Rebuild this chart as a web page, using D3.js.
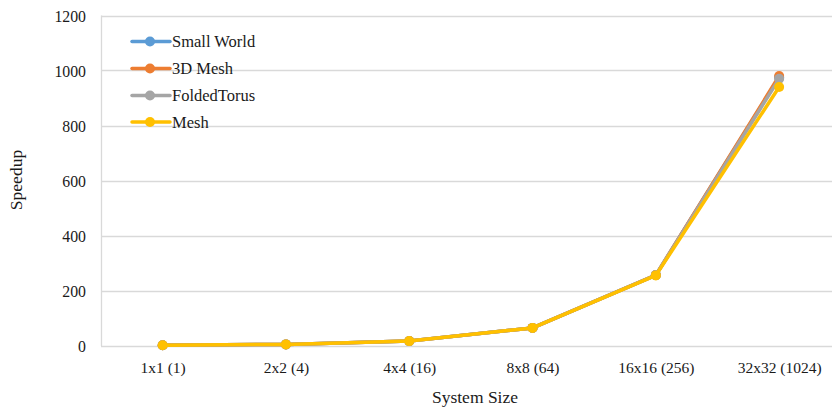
<!DOCTYPE html>
<html><head><meta charset="utf-8">
<script src="https://cdn.jsdelivr.net/npm/d3@7"></script>
<style>body{margin:0;background:#fff;}svg{display:block;font-family:"Liberation Serif","Times New Roman",serif;}</style>
</head><body><svg id="c" width="832" height="413"></svg>
<script>
const categories = ["1x1 (1)","2x2 (4)","4x4 (16)","8x8 (64)","16x16 (256)","32x32 (1024)"];
const seriesNames = ["Small World","3D Mesh","FoldedTorus","Mesh"];
const seriesColors = ["#5b9bd5","#ed7d31","#a5a5a5","#ffc000"];
const smallWorld = [1,4,16,64,256,975];
const mesh3D = [1,4,16,64,256,980];
const foldedTorus = [1,4,16,64,256,970];
const mesh = [1,4,16,64,255,940];
const yTicks = [0,200,400,600,800,1000,1200];

(function(){
const values = [smallWorld, mesh3D, foldedTorus, mesh];
const svg = d3.select("#c");
const FONT = "Liberation Serif";
const pLeft = 101, pTop = 15.5, pBottom = 345.5, step = 123.3;
const x = d3.scalePoint().domain(categories).range([pLeft + step/2, pLeft + step*5.5]);
const y = d3.scaleLinear().domain([0,1200]).range([pBottom, pTop]);

// gridlines
svg.append("g").selectAll("line").data(yTicks).join("line")
  .attr("x1", pLeft).attr("x2", 832)
  .attr("y1", d => Math.round(y(d))+0.5).attr("y2", d => Math.round(y(d))+0.5)
  .attr("stroke", "#d9d9d9").attr("stroke-width", 1.3);
// left axis line
svg.append("line").attr("x1", pLeft+0.5).attr("x2", pLeft+0.5).attr("y1", pTop).attr("y2", pBottom+0.5)
  .attr("stroke", "#d9d9d9").attr("stroke-width", 1.3);

// y labels
const yAxis = d3.axisLeft(y).tickValues(yTicks).tickFormat(d3.format("d")).tickSize(0).tickPadding(0);
const gy = svg.append("g").attr("transform", "translate(86,1)").call(yAxis)
  .attr("font-family", FONT).attr("font-size", 15.8);
gy.select(".domain").remove();
gy.selectAll("text").attr("fill", "#1a1a1a");

// x labels
const xAxis = d3.axisBottom(x).tickSize(0).tickPadding(0);
const gx = svg.append("g").attr("transform", "translate(0,361.5)").call(xAxis)
  .attr("font-family", FONT).attr("font-size", 15.5);
gx.select(".domain").remove();
gx.selectAll("text").attr("fill", "#1a1a1a");

// axis titles
svg.append("text").attr("x", 475).attr("y", 403).attr("text-anchor", "middle")
  .attr("font-family", FONT).attr("font-size", 17.5).attr("fill", "#1a1a1a").text("System Size");
svg.append("text").attr("transform", "translate(22,180) rotate(-90)").attr("text-anchor", "middle")
  .attr("font-family", FONT).attr("font-size", 17.5).attr("fill", "#1a1a1a").text("Speedup");

// series
const line = d3.line().x((d,i) => x(categories[i])).y(d => y(d));
values.forEach((vals, k) => {
  const g = svg.append("g");
  g.append("path").datum(vals).attr("d", line).attr("fill", "none")
    .attr("stroke", seriesColors[k]).attr("stroke-width", 3.5).attr("stroke-linejoin", "round").attr("stroke-linecap", "round");
  g.selectAll("circle").data(vals).join("circle")
    .attr("cx", (d,i) => x(categories[i])).attr("cy", d => y(d)).attr("r", 5)
    .attr("fill", seriesColors[k]);
});

// legend
const lg = svg.append("g").attr("font-family", FONT);
const legY = [41.5, 68.5, 95.5, 122];
seriesNames.forEach((name, k) => {
  const gg = lg.append("g").attr("transform", `translate(0,${legY[k]})`);
  gg.append("line").attr("x1", 132).attr("x2", 170).attr("y1", 0).attr("y2", 0)
    .attr("stroke", seriesColors[k]).attr("stroke-width", 3.5).attr("stroke-linecap", "round");
  gg.append("circle").attr("cx", 150).attr("cy", 0).attr("r", 5).attr("fill", seriesColors[k]);
  gg.append("text").attr("x", 172).attr("y", 5.5).attr("font-size", 16.5).attr("fill", "#1a1a1a").text(name);
});
})();
</script></body></html>
